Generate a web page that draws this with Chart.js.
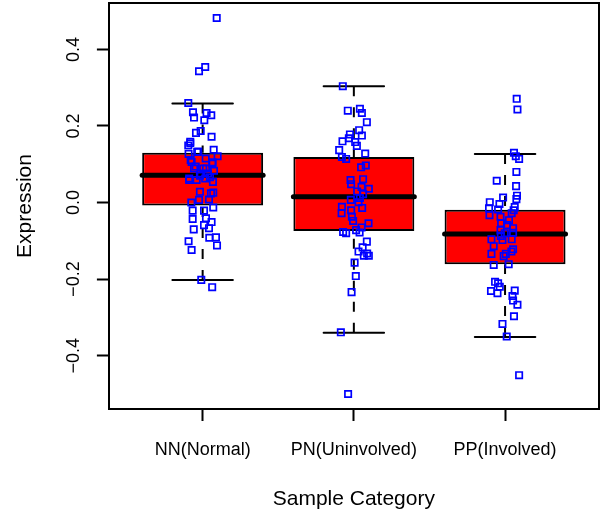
<!DOCTYPE html>
<html><head><meta charset="utf-8">
<style>html,body{margin:0;padding:0;background:#fff;}canvas{display:block;}</style>
<script src="https://cdn.jsdelivr.net/npm/chart.js@4.4.1/dist/chart.umd.min.js"></script>
</head><body>
<canvas id="c" width="606" height="518"></canvas>
<script>
const categories = ['NN(Normal)', 'PN(Uninvolved)', 'PP(Involved)'];
const q1 = [-0.008, -0.074, -0.161];
const medians = [0.071, 0.015, -0.082];
const q3 = [0.130, 0.119, -0.019];
const lowerWhisker = [-0.202, -0.340, -0.351];
const upperWhisker = [0.259, 0.304, 0.127];
const yTicks = [-0.4, -0.2, 0, 0.2, 0.4];

const nnX = [1.093,1.017,0.976,0.905,0.936,1.026,1.057,0.943,1.011,0.987,0.956,1.059,0.918,0.905,1.073,0.907,0.971,1.099,1.020,1.063,0.927,0.954,1.004,1.075,1.035,0.982,0.911,1.068,0.960,1.017,0.982,1.070,1.055,1.042,0.976,0.925,1.070,0.934,1.009,0.934,1.022,1.059,1.009,1.042,0.941,0.907,1.044,1.088,0.927,1.095,0.991,1.063,0.918,0.964,0.943,1.022,0.987,0.911,1.048,0.921,1.066];
const nnY = [0.482,0.354,0.343,0.260,0.236,0.234,0.228,0.222,0.215,0.187,0.182,0.172,0.159,0.149,0.138,0.127,0.133,0.121,0.115,0.102,0.106,0.094,0.089,0.083,0.076,0.070,0.059,0.054,0.059,0.063,0.028,0.026,0.024,0.008,0.007,0.000,-0.013,-0.021,-0.021,-0.043,-0.041,-0.051,-0.059,-0.067,-0.070,-0.101,-0.092,-0.091,-0.124,-0.112,-0.202,-0.221,0.155,0.132,0.089,0.089,0.076,0.063,0.066,0.111,0.105];

const pnX = [1.927,1.960,2.040,2.053,2.086,2.035,1.974,2.053,1.967,1.925,2.009,2.020,1.903,2.075,1.921,1.949,2.079,2.048,1.978,2.061,1.982,2.051,2.099,2.022,2.061,2.040,1.980,2.031,1.921,2.055,1.919,1.982,1.987,1.995,2.097,2.051,2.015,1.929,1.949,2.038,2.086,2.058,2.031,2.088,2.099,2.066,2.005,2.013,1.985,1.914,1.962];
const pnY = [0.304,0.240,0.245,0.234,0.210,0.189,0.178,0.175,0.168,0.160,0.158,0.148,0.137,0.128,0.119,0.114,0.097,0.092,0.059,0.061,0.048,0.041,0.036,0.029,0.022,0.012,0.007,0.001,-0.011,-0.014,-0.028,-0.020,-0.037,-0.048,-0.054,-0.065,-0.072,-0.077,-0.080,-0.078,-0.102,-0.117,-0.128,-0.133,-0.139,-0.139,-0.157,-0.192,-0.234,-0.339,-0.500];

const ppX = [3.077,3.082,3.059,3.071,3.093,3.075,2.945,3.073,3.079,3.075,2.987,2.899,2.963,3.064,2.894,3.057,2.954,3.044,2.897,2.970,3.026,2.974,3.013,3.053,2.970,2.998,3.053,2.972,3.044,2.910,2.983,2.925,3.053,3.042,3.005,2.991,2.910,2.925,3.024,2.934,2.954,2.965,2.907,2.950,3.064,3.049,3.053,3.082,3.059,2.983,3.011,3.093];
const ppY = [0.271,0.243,0.130,0.121,0.114,0.080,0.057,0.043,0.018,0.009,0.013,0.001,-0.004,-0.012,-0.015,-0.020,-0.018,-0.028,-0.033,-0.037,-0.046,-0.054,-0.059,-0.067,-0.072,-0.080,-0.079,-0.087,-0.096,-0.096,-0.098,-0.114,-0.122,-0.128,-0.134,-0.140,-0.134,-0.163,-0.161,-0.207,-0.211,-0.220,-0.231,-0.237,-0.230,-0.244,-0.256,-0.267,-0.297,-0.317,-0.350,-0.451];

const groupX = [nnX, pnX, ppX];
const groupY = [nnY, pnY, ppY];

// R-style axis limits (range + 4%)
const allY = [].concat(nnY, pnY, ppY);
const yLo = Math.min(...allY), yHi = Math.max(...allY);
const yPad = (yHi - yLo) * 0.04;
const yMin = yLo - yPad, yMax = yHi + yPad;
const xMin = 0.5 - 0.04 * categories.length, xMax = categories.length + 0.5 + 0.04 * categories.length;

const FONT = "'Liberation Sans', Arial, Helvetica, sans-serif";
const BOXW = 0.8, STAPLEW = 0.4;

const datasets = [];
// jittered points (top)
groupX.forEach((xs, g) => {
  datasets.push({
    type: 'scatter', order: 0,
    data: xs.map((x, i) => ({ x: x, y: groupY[g][i] })),
    pointStyle: 'rect', pointRadius: 4.5, pointBorderWidth: 1.7,
    pointBorderColor: '#0000FF', pointBackgroundColor: 'rgba(0,0,0,0)',
    showLine: false
  });
});
// medians
categories.forEach((c, i) => {
  datasets.push({
    type: 'scatter', order: 1, showLine: true, pointRadius: 0,
    borderColor: '#000', borderWidth: 5, borderCapStyle: 'round',
    data: [{ x: i + 1 - BOXW / 2, y: medians[i] }, { x: i + 1 + BOXW / 2, y: medians[i] }]
  });
});
// whiskers (dashed) and staples
categories.forEach((c, i) => {
  const dash = { type: 'scatter', order: 2, showLine: true, pointRadius: 0, borderColor: '#000', borderWidth: 2, borderDash: [10, 11] };
  datasets.push(Object.assign({}, dash, { data: [{ x: i + 1, y: upperWhisker[i] }, { x: i + 1, y: q3[i] }] }));
  datasets.push(Object.assign({}, dash, { data: [{ x: i + 1, y: lowerWhisker[i] }, { x: i + 1, y: q1[i] }] }));
  const st = { type: 'scatter', order: 2, showLine: true, pointRadius: 0, borderColor: '#000', borderWidth: 2, borderCapStyle: 'round' };
  datasets.push(Object.assign({}, st, { data: [{ x: i + 1 - STAPLEW / 2, y: upperWhisker[i] }, { x: i + 1 + STAPLEW / 2, y: upperWhisker[i] }] }));
  datasets.push(Object.assign({}, st, { data: [{ x: i + 1 - STAPLEW / 2, y: lowerWhisker[i] }, { x: i + 1 + STAPLEW / 2, y: lowerWhisker[i] }] }));
});
// boxes
datasets.push({
  type: 'bar', order: 3,
  data: categories.map((c, i) => ({ x: i + 1, y: [q1[i], q3[i]] })),
  backgroundColor: '#FF0000', borderColor: '#000', borderWidth: 2, borderSkipped: false,
  categoryPercentage: BOXW, barPercentage: 1
});

const noPad = s => { s.paddingTop = 0; s.paddingBottom = 0; s.paddingLeft = 0; s.paddingRight = 0; };

new Chart(document.getElementById('c'), {
  type: 'bar',
  data: { datasets: datasets },
  options: {
    responsive: false, animation: false, devicePixelRatio: 1, events: [],
    layout: { padding: 0, autoPadding: false },
    plugins: { legend: { display: false }, tooltip: { enabled: false } },
    scales: {
      x: {
        type: 'linear', position: 'bottom', min: xMin, max: xMax, offset: false,
        afterBuildTicks: s => { s.ticks = categories.map((c, i) => ({ value: i + 1 })); },
        afterFit: s => { s.height = 109; noPad(s); },
        ticks: { autoSkip: false, maxRotation: 0, padding: 18, color: '#000',
                 font: { family: FONT, size: 18 },
                 callback: v => categories[Math.round(v) - 1] },
        grid: { display: true, offset: false, drawOnChartArea: false, drawTicks: true, tickLength: 12, tickColor: '#000', tickWidth: 2 },
        border: { display: true, color: '#000', width: 2 },
        title: { display: true, text: 'Sample Category', color: '#000', font: { family: FONT, size: 21 }, padding: { top: 0, bottom: 6 } }
      },
      y: {
        type: 'linear', position: 'left', min: yMin, max: yMax,
        afterBuildTicks: s => { s.ticks = yTicks.map(v => ({ value: v })); },
        afterFit: s => { s.width = 108.9; noPad(s); },
        ticks: { minRotation: 90, maxRotation: 90, crossAlign: 'center', padding: 5, color: '#000',
                 font: { family: FONT, size: 18 },
                 callback: v => v.toFixed(1).replace('-', '\u2212') },
        grid: { display: true, offset: false, drawOnChartArea: false, drawTicks: true, tickLength: 12, tickColor: '#000', tickWidth: 2 },
        border: { display: true, color: '#000', width: 2 },
        title: { display: true, text: 'Expression', color: '#000', font: { family: FONT, size: 21 }, padding: { top: 13, bottom: 0 } }
      },
      x2: {
        type: 'linear', position: 'top', min: xMin, max: xMax,
        afterFit: s => { s.height = 3; noPad(s); },
        ticks: { display: false }, grid: { display: false, drawTicks: false },
        border: { display: true, color: '#000', width: 2 }
      },
      y2: {
        type: 'linear', position: 'right', min: yMin, max: yMax,
        afterFit: s => { s.width = 7.2; noPad(s); },
        ticks: { display: false }, grid: { display: false, drawTicks: false },
        border: { display: true, color: '#000', width: 2 }
      }
    }
  }
});
</script>
</body></html>
